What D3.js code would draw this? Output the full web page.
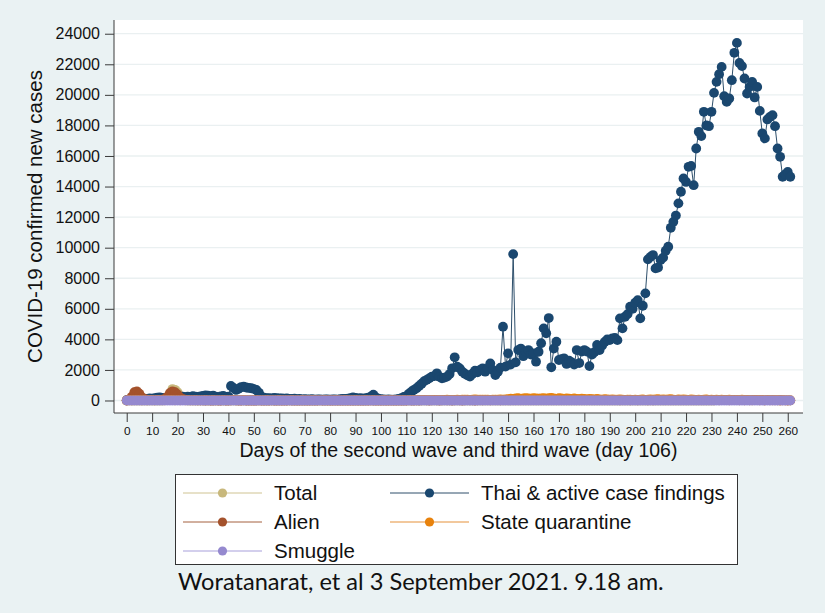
<!DOCTYPE html>
<html>
<head>
<meta charset="utf-8">
<script src="https://d3js.org/d3.v7.min.js"></script>
<style>
  body { margin: 0; background: #eaf2f3; }
  svg { display: block; font-family: "Liberation Sans", Arial, sans-serif; }
</style>
</head>
<body>
<div id="chart"></div>
<script>
// daily new cases, index = day of the second/third wave (0..261)
var thai = [
  20, 30, 50, 60, 80, 100, 90, 120, 100, 130,
  120, 150, 180, 210, 170, 160, 200, 190, 220, 180,
  200, 230, 250, 220, 260, 240, 280, 250, 230, 270,
  300, 330, 310, 280, 320, 250, 220, 270, 300, 240,
  260, 950, 820, 690, 760, 880, 900, 850, 820, 800,
  760, 690, 510, 250, 180, 150, 160, 140, 170, 150,
  130, 140, 120, 130, 110, 100, 120, 90, 100, 80,
  90, 80, 70, 90, 60, 80, 70, 60, 80, 70,
  60, 70, 80, 60, 90, 110, 100, 120, 150, 210,
  170, 130, 150, 120, 160, 180, 250, 380, 200, 120,
  90, 80, 60, 70, 50, 60, 80, 110, 160, 230,
  290, 450, 580, 700, 800, 950, 1100, 1270, 1350, 1450,
  1560, 1600, 1780, 1550, 1450, 1500, 1560, 1730, 2105, 2825,
  2210, 2100, 1885, 1750, 1650, 1560, 1750, 1950, 1850, 2000,
  2105, 1885, 2100, 2430, 2000, 1670, 1885, 2150, 4830, 2215,
  3085, 2350, 9580, 2500, 3300, 3400, 2900, 3200, 3300, 3000,
  3085, 2540, 3190, 3750, 4720, 4400, 5395, 2170, 3400, 3845,
  2650, 2700, 2760, 2390, 2600, 2500, 2350, 3300, 2450, 3200,
  3300, 3200, 2250, 3000, 3170, 3630, 3300, 3600, 3830, 4000,
  3955, 4070, 4100, 3950, 5375, 4720, 5480, 5650, 6135, 6000,
  6400, 6570, 5375, 6200, 7010, 9235, 9400, 9515, 8645, 8700,
  9190, 9350, 9800, 10060, 11300, 11690, 12100, 12900, 13660, 14530,
  14300, 15290, 15350, 14090, 16490, 17580, 17300, 18890, 18000, 17950,
  18890, 20130, 20850, 21350, 21830, 19910, 19540, 19760, 20960, 22750,
  23400, 22090, 21880, 21070, 20090, 20520, 20850, 19830, 20520, 18950,
  17475, 17150, 18390, 18560, 18670, 17950, 16490, 15945, 14640, 14800,
  14960, 14640
];

var alien = [
  0, 80, 250, 550, 600, 450, 200, 100, 60, 40,
  30, 20, 30, 40, 60, 100, 250, 500, 600, 550,
  400, 200, 100, 50, 30, 20, 20, 10, 10, 10,
  10, 0, 10, 0, 0, 10, 0, 0, 10, 0,
  0, 10, 20, 10, 0, 0, 10, 0, 0, 0,
  0, 0, 10, 0, 0, 0, 0, 10, 0, 0,
  0, 0, 0, 0, 10, 0, 0, 0, 0, 0,
  0, 0, 0, 0, 0, 0, 10, 0, 0, 0,
  0, 0, 0, 0, 0, 0, 0, 0, 0, 0,
  0, 0, 0, 0, 0, 0, 10, 0, 0, 0,
  0, 0, 0, 0, 0, 0, 0, 0, 0, 0,
  0, 10, 0, 0, 10, 0, 10, 20, 10, 0,
  10, 20, 10, 0, 10, 20, 10, 10, 0, 10,
  20, 10, 0, 10, 20, 10, 10, 0, 10, 20,
  10, 20, 30, 10, 20, 30, 20, 10, 20, 30,
  40, 60, 80, 50, 40, 60, 80, 70, 60, 50,
  80, 100, 120, 90, 80, 110, 90, 70, 60, 80,
  100, 80, 60, 50, 70, 60, 50, 40, 60, 50,
  40, 30, 40, 50, 30, 40, 30, 20, 30, 40,
  30, 20, 30, 20, 10, 20, 30, 20, 10, 20,
  20, 10, 20, 30, 20, 10, 20, 10, 20, 30,
  20, 30, 40, 30, 20, 30, 40, 30, 20, 30,
  40, 30, 20, 30, 40, 30, 20, 30, 20, 30,
  20, 30, 20, 10, 20, 30, 20, 10, 20, 30,
  20, 10, 20, 10, 20, 10, 20, 30, 20, 10,
  20, 10, 20, 10, 20, 10, 10, 20, 10, 10,
  10, 10
];

var quarantine = [
  10, 20, 10, 20, 30, 20, 10, 20, 10, 20,
  20, 10, 20, 30, 20, 10, 20, 30, 20, 10,
  20, 10, 20, 10, 20, 10, 10, 20, 10, 10,
  10, 20, 10, 10, 20, 10, 10, 10, 20, 10,
  10, 10, 20, 10, 10, 10, 20, 10, 10, 10,
  10, 20, 10, 10, 10, 20, 10, 10, 10, 10,
  20, 10, 10, 10, 10, 20, 10, 10, 10, 20,
  10, 10, 10, 20, 10, 10, 10, 10, 20, 10,
  10, 10, 20, 10, 10, 10, 20, 10, 10, 10,
  20, 10, 10, 10, 20, 10, 10, 20, 10, 10,
  10, 20, 10, 10, 20, 10, 10, 20, 10, 20,
  10, 20, 30, 20, 10, 20, 30, 20, 30, 20,
  30, 40, 30, 20, 30, 40, 50, 40, 30, 40,
  50, 40, 50, 60, 50, 40, 60, 70, 60, 50,
  60, 50, 60, 40, 50, 60, 50, 70, 60, 80,
  90, 120, 100, 130, 150, 110, 140, 160, 130, 120,
  150, 130, 110, 140, 160, 120, 150, 170, 130, 110,
  150, 130, 110, 140, 120, 100, 130, 110, 90, 120,
  100, 80, 110, 90, 70, 100, 80, 60, 90, 70,
  60, 80, 60, 50, 70, 60, 40, 60, 50, 40,
  60, 40, 50, 70, 40, 60, 80, 50, 70, 90,
  60, 80, 50, 70, 90, 60, 40, 70, 50, 80,
  60, 40, 70, 50, 30, 60, 40, 50, 70, 40,
  50, 30, 60, 40, 50, 30, 40, 60, 30, 20,
  40, 30, 50, 20, 40, 30, 10, 30, 20, 40,
  20, 10, 30, 20, 10, 30, 20, 0, 20, 10,
  0, 10
];

var total = [
  0, 0, 0, 0, 0, 0, 0, 0, 0, 0,
  0, 0, 0, 0, 0, 50, 200, 450, 750, 700,
  550, 300, 120, 40, 0, 0, 0, 0, 0, 0,
  0, 0, 0, 0, 0, 0, 0, 0, 0, 0, 0, 0, 0, 0, 0, 0, 0, 0, 0, 0,
  0, 0, 0, 0, 0, 0, 0, 0, 0, 0, 0, 0, 0, 0, 0, 0, 0, 0, 0, 0,
  0, 0, 0, 0, 0, 0, 0, 0, 0, 0, 0, 0, 0, 0, 0, 0, 0, 0, 0, 0,
  0, 0, 0, 0, 0, 0, 0, 0, 0, 0, 0, 0, 0, 0, 0, 0, 0, 0, 0, 0,
  0, 0, 0, 0, 0, 0, 0, 0, 0, 0, 0, 0, 0, 0, 0, 0, 0, 0, 0, 0,
  0, 0, 0, 0, 0, 0, 0, 0, 0, 0, 0, 0, 0, 0, 0, 0, 0, 0, 0, 0,
  0, 0, 0, 0, 0, 0, 0, 0, 0, 0, 0, 0, 0, 0, 0, 0, 0, 0, 0, 0,
  0, 0, 0, 0, 0, 0, 0, 0, 0, 0, 0, 0, 0, 0, 0, 0, 0, 0, 0, 0,
  0, 0, 0, 0, 0, 0, 0, 0, 0, 0, 0, 0, 0, 0, 0, 0, 0, 0, 0, 0,
  0, 0, 0, 0, 0, 0, 0, 0, 0, 0, 0, 0, 0, 0, 0, 0, 0, 0, 0, 0,
  0, 0
];

var smuggle = [
  0, 0, 0, 0, 0, 0, 0, 0, 0, 0, 0, 0, 0, 0, 0, 0, 0, 0, 0, 0,
  0, 0, 0, 0, 0, 0, 0, 0, 0, 0, 0, 0, 0, 0, 0, 0, 0, 0, 0, 0,
  0, 0, 0, 0, 0, 0, 0, 0, 0, 0, 0, 0, 0, 0, 0, 0, 0, 0, 0, 0,
  0, 0, 0, 0, 0, 0, 0, 0, 0, 0, 0, 0, 0, 0, 0, 0, 0, 0, 0, 0,
  0, 0, 0, 0, 0, 0, 0, 0, 0, 0, 0, 0, 0, 0, 0, 0, 0, 0, 0, 0,
  0, 0, 0, 0, 0, 0, 0, 0, 0, 0, 0, 0, 0, 0, 0, 0, 0, 0, 0, 0,
  0, 0, 0, 0, 0, 0, 0, 0, 0, 0, 0, 0, 0, 0, 0, 0, 0, 0, 0, 0,
  0, 0, 0, 0, 0, 0, 0, 0, 0, 0, 0, 0, 0, 0, 0, 0, 0, 0, 0, 0,
  0, 0, 0, 0, 0, 0, 0, 0, 0, 0, 0, 0, 0, 0, 0, 0, 0, 0, 0, 0,
  0, 0, 0, 0, 0, 0, 0, 0, 0, 0, 0, 0, 0, 0, 0, 0, 0, 0, 0, 0,
  0, 0, 0, 0, 0, 0, 0, 0, 0, 0, 0, 0, 0, 0, 0, 0, 0, 0, 0, 0,
  0, 0, 0, 0, 0, 0, 0, 0, 0, 0, 0, 0, 0, 0, 0, 0, 0, 0, 0, 0,
  0, 0, 0, 0, 0, 0, 0, 0, 0, 0, 0, 0, 0, 0, 0, 0, 0, 0, 0, 0,
  0, 0
];

var seriesNames = ["Total", "Thai & active case findings", "Alien", "State quarantine", "Smuggle"];
var xTicks = [0, 10, 20, 30, 40, 50, 60, 70, 80, 90, 100, 110, 120, 130, 140, 150, 160, 170, 180, 190, 200, 210, 220, 230, 240, 250, 260];
var yTicks = [0, 2000, 4000, 6000, 8000, 10000, 12000, 14000, 16000, 18000, 20000, 22000, 24000];

function init() {
    var w = 825;
    var h = 613;
    var left = 114, right = 803, top = 20, bottom = 413;

    var svg = d3.select("#chart")
                .append("svg")
                .attr("width", w)
                .attr("height", h);

    svg.append("rect")
        .attr("width", w).attr("height", h)
        .attr("fill", "#eaf2f3");

    svg.append("rect")
        .attr("x", left).attr("y", top)
        .attr("width", right - left).attr("height", bottom - top)
        .attr("fill", "#ffffff");

    var x = d3.scaleLinear().domain([-5, 266]).range([left, right]);
    var y = d3.scaleLinear().domain([-818, 24898]).range([bottom, top]);

    // gridlines
    svg.selectAll("line.grid")
        .data(yTicks)
        .enter()
        .append("line")
        .attr("class", "grid")
        .attr("x1", left).attr("x2", right)
        .attr("y1", function(d) { return y(d); })
        .attr("y2", function(d) { return y(d); })
        .attr("stroke", "#eaf0f1")
        .attr("stroke-width", 1.3);

    // series, drawn in Stata order so smuggle ends up on top
    var series = [
        { name: seriesNames[0], values: total, color: "#c8b87c", line: "#cfc392" },
        { name: seriesNames[1], values: thai, color: "#1a476f", line: "#2e4f6b" },
        { name: seriesNames[2], values: alien, color: "#a4522c", line: "#a4603f" },
        { name: seriesNames[3], values: quarantine, color: "#e8820c", line: "#e5913a" },
        { name: seriesNames[4], values: smuggle, color: "#9589cf", line: "#a79fda" }
    ];

    var line = d3.line()
        .x(function(d, i) { return x(i); })
        .y(function(d) { return y(d); });

    series.forEach(function(s) {
        var g = svg.append("g");
        g.append("path")
            .datum(s.values)
            .attr("d", line)
            .attr("fill", "none")
            .attr("stroke", s.line)
            .attr("stroke-width", 1);
        g.selectAll("circle")
            .data(s.values)
            .enter()
            .append("circle")
            .attr("cx", function(d, i) { return x(i); })
            .attr("cy", function(d) { return y(d); })
            .attr("r", 4.9)
            .attr("fill", s.color);
    });

    // axes
    var yAxis = d3.axisLeft(y)
        .tickValues(yTicks)
        .tickSize(9)
        .tickPadding(5)
        .tickFormat(d3.format("d"));
    var gy = svg.append("g")
        .attr("transform", "translate(" + left + ",0)")
        .call(yAxis);
    gy.select(".domain").attr("d", "M0," + top + "V" + bottom).attr("stroke", "#3a3a3a");
    gy.selectAll(".tick line").attr("stroke", "#3a3a3a");
    gy.selectAll("text").attr("font-size", 16).attr("fill", "#111")
        .attr("font-family", "'Liberation Sans', Arial, sans-serif");

    var xAxis = d3.axisBottom(x)
        .tickValues(xTicks)
        .tickSize(9)
        .tickPadding(5);
    var gx = svg.append("g")
        .attr("transform", "translate(0," + bottom + ")")
        .call(xAxis);
    gx.select(".domain").attr("d", "M" + left + ",0H" + right).attr("stroke", "#3a3a3a");
    gx.selectAll(".tick line").attr("stroke", "#3a3a3a");
    gx.selectAll("text").attr("font-size", 11.8).attr("fill", "#111")
        .attr("font-family", "'Liberation Sans', Arial, sans-serif");

    // axis titles
    svg.append("text")
        .attr("x", (left + right) / 2)
        .attr("y", 457)
        .attr("text-anchor", "middle")
        .attr("font-size", 19.5)
        .attr("fill", "#111")
        .text("Days of the second wave and third wave (day 106)");

    svg.append("text")
        .attr("transform", "translate(42," + ((top + bottom) / 2) + ") rotate(-90)")
        .attr("text-anchor", "middle")
        .attr("font-size", 20.5)
        .attr("fill", "#111")
        .text("COVID-19 confirmed new cases");

    // legend
    var legend = svg.append("g");
    legend.append("rect")
        .attr("x", 175.5).attr("y", 474.5)
        .attr("width", 562).attr("height", 90)
        .attr("fill", "#ffffff")
        .attr("stroke", "#333")
        .attr("stroke-width", 1);

    var slots = [
        { col: 0, row: 0 }, { col: 1, row: 0 },
        { col: 0, row: 1 }, { col: 1, row: 1 },
        { col: 0, row: 2 }
    ];
    var colX = [183, 390];
    var rowY = [493, 522, 551];

    var items = legend.selectAll("g.item")
        .data(series)
        .enter()
        .append("g")
        .attr("class", "item")
        .attr("transform", function(d, i) {
            return "translate(" + colX[slots[i].col] + "," + rowY[slots[i].row] + ")";
        });
    items.append("line")
        .attr("x1", 0).attr("x2", 79)
        .attr("stroke", function(d) { return d.line; })
        .attr("stroke-width", 1);
    items.append("circle")
        .attr("cx", 39.5).attr("r", 4.6)
        .attr("fill", function(d) { return d.color; });
    items.append("text")
        .attr("x", 91)
        .attr("y", 7)
        .attr("font-size", 20.5)
        .attr("fill", "#111")
        .text(function(d) { return d.name; });

    // caption
    var cap = svg.append("text")
        .attr("x", 178)
        .attr("y", 590)
        .attr("font-family", "Lato, 'Open Sans', sans-serif")
        .attr("font-size", 21)
        .attr("fill", "#111")
        .text("Woratanarat, et al 3 September 2021. 9.18 am.");
    var len = cap.node().getComputedTextLength();
    cap.attr("font-size", 21 * 486 / len);
}

window.onload = init;
</script>
</body>
</html>
